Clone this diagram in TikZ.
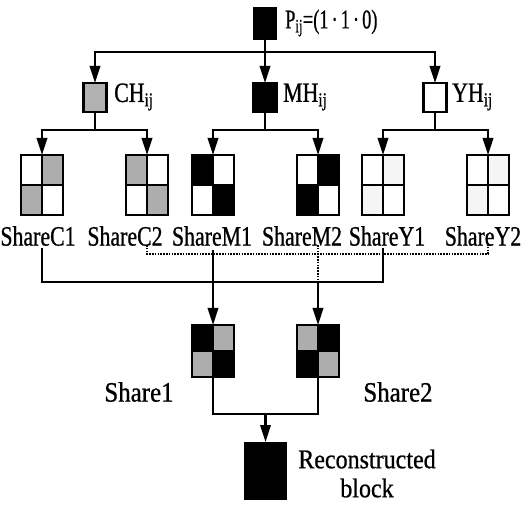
\documentclass[tikz,border=0pt]{standalone}
\usepackage{fontspec}
\usepackage{graphicx}
\setmainfont{Liberation Serif}
\newfontfamily\condfont[FakeStretch=0.78,FakeBold=0.8]{Liberation Serif}
\newfontfamily\midfont[FakeStretch=0.89,FakeBold=0.8]{Liberation Serif}
\newfontfamily\plainbold[FakeBold=0.8]{Liberation Serif}
\usetikzlibrary{arrows.meta}
\tikzset{
  ln/.style={line width=2.2pt},
  arr/.style={ln,-{Triangle[length=17pt,width=10.5pt]}},
  dotln/.style={line width=1.2pt, dash pattern=on 1.6pt off 1.2pt},
  smallbox/.style={rectangle, minimum width=23pt, minimum height=29pt, draw, line width=2.4pt, inner sep=0pt, outer sep=0pt},
  blk/.style={rectangle, minimum width=42pt, minimum height=60pt, inner sep=0pt, outer sep=0pt},
  gridln/.style={line width=2.2pt},
  borderln/.style={line width=2.6pt},
  lbl/.style={font=\midfont\fontsize{28}{30}\selectfont, inner sep=0pt},
  clbl/.style={font=\condfont\fontsize{28}{30}\selectfont, inner sep=0pt},
  rlbl/.style={font=\midfont\fontsize{27}{29}\selectfont, inner sep=0pt},
  gcell/.style={fill=black!32},
  ycell/.style={fill=black!4},
  wcell/.style={fill=white},
  kcell/.style={fill=black},
}
\newcommand\mkshare[7][]{%
  \node[blk,#1] (#2) at (#3) {};
  \fill[#4] (#2.north west) rectangle (#2.center);
  \fill[#5] (#2.north) rectangle (#2.east);
  \fill[#6] (#2.west) rectangle (#2.south);
  \fill[#7] (#2.center) rectangle (#2.south east);
  \draw[gridln] (#2.north) -- (#2.south) (#2.west) -- (#2.east);
  \draw[borderln] (#2.north west) rectangle (#2.south east);
}
\begin{document}
\begin{tikzpicture}[x=1pt,y=-1pt]
\useasboundingbox (0,0) rectangle (530,510);
\fill[white] (0,0) rectangle (530,510);

% top level
\node[smallbox, minimum width=22pt, minimum height=31pt, fill=black] (P) at (265,23.5) {};
\node[inner sep=0pt, anchor=west] (Pt) at (285,23) {\scalebox{0.68}[1]{\plainbold\fontsize{27}{29}\selectfont P\textsubscript{ij}=(1\,·\,1\,·\,0)}};
\coordinate (j0) at (265,52);

\node[smallbox, fill=black!30] (CH) at (95,97.5) {};
\node[smallbox, fill=black] (MH) at (265,97.5) {};
\node[smallbox, fill=white] (YH) at (435,97.5) {};
\node[clbl, anchor=west] (CHt) at (114,97) {CH\textsubscript{ij}};
\node[clbl, anchor=west] (MHt) at (283,97) {MH\textsubscript{ij}};
\node[clbl, anchor=west] (YHt) at (452,97) {YH\textsubscript{ij}};

\draw[ln] (P) -- (j0);
\draw[arr] (j0) -| (CH);
\draw[arr] (j0) -- (MH);
\draw[arr] (j0) -| (YH);

% share blocks
\mkshare{C1}{42,185}{wcell}{gcell}{gcell}{wcell}
\mkshare{C2}{147,185}{gcell}{wcell}{wcell}{gcell}
\mkshare{M1}{213,185}{kcell}{wcell}{wcell}{kcell}
\mkshare{M2}{318,185}{wcell}{kcell}{kcell}{wcell}
\mkshare{Y1}{383,185}{wcell}{ycell}{ycell}{wcell}
\mkshare{Y2}{488,185}{wcell}{ycell}{ycell}{wcell}

\coordinate (jC) at (95,130);
\coordinate (jM) at (265,130);
\coordinate (jY) at (435,130);
\draw[ln] (CH) -- (jC);
\draw[ln] (MH) -- (jM);
\draw[ln] (YH) -- (jY);
\draw[arr] (jC) -| (C1);
\draw[arr] (jC) -| (C2);
\draw[arr] (jM) -| (M1);
\draw[arr] (jM) -| (M2);
\draw[arr] (jY) -| (Y1);
\draw[arr] (jY) -| (Y2);

% labels
\node[clbl] (lC1) at (38,236) {ShareC1};
\node[clbl] (lC2) at (125,236) {ShareC2};
\node[clbl] (lM1) at (212,236) {ShareM1};
\node[clbl] (lM2) at (302,236) {ShareM2};
\node[clbl] (lY1) at (387,236) {ShareY1};
\node[clbl] (lY2) at (483,236) {ShareY2};

% combined shares
\mkshare[minimum height=52pt]{S1}{213,351}{kcell}{gcell}{gcell}{kcell}
\mkshare[minimum height=52pt]{S2}{318,351}{gcell}{kcell}{kcell}{gcell}

% solid collection
\coordinate (a1) at (42,248);
\coordinate (a2) at (213,250);
\coordinate (a3) at (383,248);
\coordinate (b1) at (42,282);
\coordinate (b3) at (383,282);
\draw[ln] (a1) -- (b1) -- (b3) -- (a3);
\draw[arr] (a2) -- (S1);

% dotted collection
\coordinate (d1) at (147,245);
\coordinate (d2) at (318,245);
\coordinate (d3) at (488,245);
\coordinate (e1) at (147,254);
\coordinate (e3) at (488,254);
\coordinate (f2) at (318,282);
\draw[dotln] (d1) -- (e1) -- (e3) -- (d3);
\draw[dotln] (d2) -- (f2);
\draw[arr] (f2) -- (S2);

\node[lbl] (t1) at (139,392) {Share1};
\node[lbl] (t2) at (398,392) {Share2};

% reconstruction
\node[blk, fill=black, minimum width=43pt, minimum height=58pt] (Rec) at (265.5,471) {};
\coordinate (g1) at (213,414);
\coordinate (g2) at (318,414);
\coordinate (gm) at (265.5,414);
\draw[ln] (S1) -- (g1) -- (g2) -- (S2);
\draw[arr] (gm) -- (Rec);
\node[rlbl] (rt1) at (367,459) {Reconstructed};
\node[rlbl] (rt2) at (367,488) {block};
\end{tikzpicture}
\end{document}
